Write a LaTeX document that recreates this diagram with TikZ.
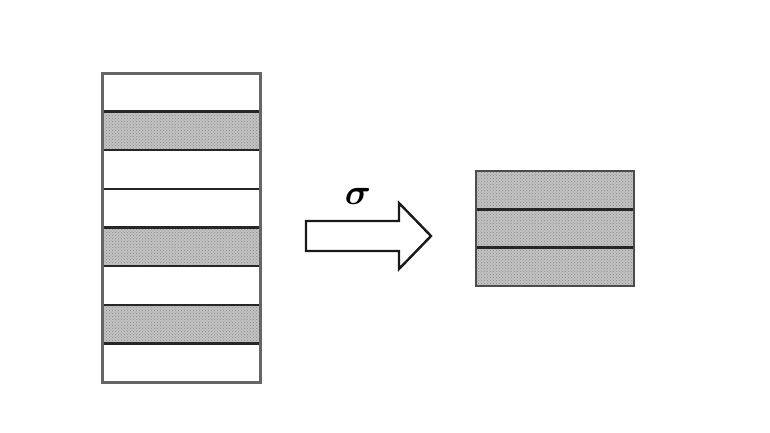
\documentclass[tikz,border=0pt]{standalone}
\usepackage{amsmath,bm}
\usetikzlibrary{patterns}
\begin{document}
\begin{tikzpicture}[x=1pt,y=-1pt,
  shaded/.style={fill=black!24,postaction={pattern=crosshatch dots,pattern color=black!45}},
  plain/.style={fill=white},
  sep/.style={draw=black!85,line width=2.4pt},
  frame/.style={draw=black!60,line width=3pt},
  bigarrow/.style={draw=black!90,line width=2.4pt,fill=white,line join=miter}]
\useasboundingbox (0,0) rectangle (770,432);
% left stack
\foreach \i/\s in {0/plain,1/shaded,2/plain,3/plain,4/shaded,5/plain,6/shaded,7/plain}{
  \path[\s] (102,{73+\i*38.625}) rectangle (260,{73+(\i+1)*38.625});
}
\foreach \i in {1,...,7}{
  \draw[sep] (102,{73+\i*38.625}) -- (260,{73+\i*38.625});
}
\draw[frame] (102,73) rectangle (260,382);
\node[inner sep=0] (L) at (181,227.5) {};
% right stack
\path[shaded] (476,171) rectangle (634,286);
\foreach \i in {1,2}{
  \draw[sep] (476,{171+\i*38.33}) -- (634,{171+\i*38.33});
}
\draw[draw=black!70,line width=2pt] (476,171) rectangle (634,286);
\node[inner sep=0] (R) at (555,228.5) {};
% arrow
\draw[bigarrow] (306,221) -- (399,221) -- (399,203) -- (431,236) -- (399,269) -- (399,251) -- (306,251) -- cycle;
\node[scale=2.1] (sig) at (358,196) {\LARGE$\bm{\sigma}$};
\end{tikzpicture}
\end{document}
